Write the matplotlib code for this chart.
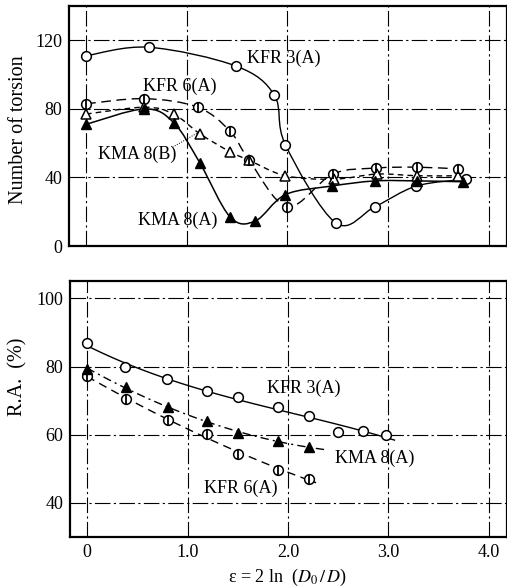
import numpy as np
import matplotlib
matplotlib.use("Agg")
import matplotlib.pyplot as plt
from matplotlib.path import Path
from matplotlib.patches import PathPatch

plt.rcParams["font.family"] = ["Liberation Serif", "DejaVu Serif"]
plt.rcParams["mathtext.fontset"] = "stix"

# ---- Number of torsion vs strain ----
kfr3_t_x = [0.0, 0.62, 1.49, 1.87, 1.98, 2.48, 2.87, 3.28, 3.77]
kfr3_t_y = [111, 116, 105, 88, 59, 13.5, 23, 35, 39]

kfr6_t_x = [0.0, 0.58, 1.11, 1.43, 1.62, 2.0, 2.45, 2.88, 3.29, 3.69]
kfr6_t_y = [83, 86, 81, 67, 50, 23, 42, 45.5, 46, 45]

kma8b_t_x = [0.0, 0.58, 0.87, 1.13, 1.43, 1.62, 1.98, 2.46, 2.89, 3.29, 3.69]
kma8b_t_y = [77, 81, 77, 65.5, 55, 50, 41, 39, 42, 41, 41]

kma8a_t_x = [0.0, 0.58, 0.87, 1.13, 1.43, 1.68, 1.98, 2.44, 2.87, 3.29, 3.74]
kma8a_t_y = [71, 80, 72, 48.5, 17, 14.6, 30, 35, 38, 38, 37.5]

# ---- Reduction of area vs strain ----
kfr3_r_x = [0.0, 0.38, 0.8, 1.19, 1.5, 1.9, 2.21, 2.5, 2.75, 2.98]
kfr3_r_y = [86.8, 79.8, 76.3, 72.8, 71.0, 68.1, 65.5, 60.8, 61.1, 59.9]

kma8a_r_x = [0.0, 0.39, 0.81, 1.19, 1.5, 1.9, 2.21]
kma8a_r_y = [79.3, 74.0, 68.0, 64.0, 60.5, 58.1, 56.4]

kfr6_r_x = [0.0, 0.39, 0.81, 1.19, 1.5, 1.9, 2.21]
kfr6_r_y = [77.2, 70.4, 64.3, 60.2, 54.3, 49.7, 47.0]

x_ticks = [0, 1, 2, 3, 4]
x_ticklabels = ["0", "1.0", "2.0", "3.0", "4.0"]
top_yticks = [0, 40, 80, 120]
bot_yticks = [40, 60, 80, 100]

GRID_DASH = (0, (14, 3, 2, 3))
FS = 13


def smooth_curve(ax, xs, ys, **kw):
    """Draw a smooth Catmull-Rom style Bezier path through the points."""
    pts = np.column_stack([xs, ys]).astype(float)
    verts = [pts[0]]
    codes = [Path.MOVETO]
    n = len(pts)
    for i in range(n - 1):
        p0 = pts[i - 1] if i > 0 else pts[i]
        p1 = pts[i]
        p2 = pts[i + 1]
        p3 = pts[i + 2] if i + 2 < n else pts[i + 1]
        c1 = p1 + (p2 - p0) / 6.0
        c2 = p2 - (p3 - p1) / 6.0
        verts += [c1, c2, p2]
        codes += [Path.CURVE4] * 3
    ax.add_patch(PathPatch(Path(verts, codes), fill=False, transform=ax.transData, **kw))


def trend_curve(ax, xs, ys, x_end, deg=2, **kw):
    """Least-squares trend line through the measured points."""
    coef = np.polyfit(xs, ys, deg)
    xx = np.linspace(min(xs), x_end, 120)
    ax.plot(xx, np.polyval(coef, xx), **kw)


def open_circle(ax, xs, ys):
    ax.plot(xs, ys, "o", ms=7, mfc="white", mec="black", mew=1.1, zorder=5)


def barred_circle(ax, xs, ys):
    ax.plot(xs, ys, "o", ms=7, mfc="white", mec="black", mew=1.1, zorder=5)
    ax.plot(xs, ys, "|", ms=7, mec="black", mew=1.3, zorder=6)


def open_tri(ax, xs, ys):
    ax.plot(xs, ys, "^", ms=6.5, mfc="white", mec="black", mew=1.1, zorder=5)


def filled_tri(ax, xs, ys):
    ax.plot(xs, ys, "^", ms=6.5, mfc="black", mec="black", mew=1.0, zorder=6)


def style_axes(ax, yticks, show_x):
    ax.set_xlim(-0.17, 4.18)
    ax.set_xticks(x_ticks)
    ax.set_yticks(yticks)
    ax.set_yticklabels([str(v) for v in yticks], fontsize=FS)
    if show_x:
        ax.set_xticklabels(x_ticklabels, fontsize=FS)
    else:
        ax.set_xticklabels([])
    ax.tick_params(length=0, pad=5)
    ax.grid(True, color="black", lw=0.8, linestyle=GRID_DASH)
    ax.set_axisbelow(True)
    for s in ax.spines.values():
        s.set_linewidth(1.6)


fig = plt.figure(figsize=(5.07, 5.88), dpi=100)
ax1 = fig.add_axes([0.136, 0.5816, 0.864, 0.408])
ax2 = fig.add_axes([0.138, 0.0867, 0.862, 0.435])

# Upper panel
ax1.set_ylim(0, 140)
style_axes(ax1, top_yticks, False)
smooth_curve(ax1, kfr3_t_x, kfr3_t_y, color="black", lw=1.0)
smooth_curve(ax1, kfr6_t_x, kfr6_t_y, color="black", lw=1.0, linestyle=(0, (7, 4)))
smooth_curve(ax1, kma8b_t_x, kma8b_t_y, color="black", lw=1.0, linestyle=(0, (4, 3)))
smooth_curve(ax1, kma8a_t_x, kma8a_t_y, color="black", lw=1.1)
open_circle(ax1, kfr3_t_x, kfr3_t_y)
barred_circle(ax1, kfr6_t_x, kfr6_t_y)
open_tri(ax1, kma8b_t_x, kma8b_t_y)
filled_tri(ax1, kma8a_t_x, kma8a_t_y)

ax1.text(1.6, 109.5, "KFR 3(A)", fontsize=FS, ha="left", va="center")
ax1.text(0.57, 93, "KFR 6(A)", fontsize=FS, ha="left", va="center")
ax1.text(0.12, 53.6, "KMA 8(B)", fontsize=FS, ha="left", va="center")
ax1.text(0.52, 15, "KMA 8(A)", fontsize=FS, ha="left", va="center")
ax1.plot([0.86, 1.10], [57.7, 65.8], color="black", lw=0.7, linestyle=(0, (1, 1.5)))

# Lower panel
ax2.set_ylim(30, 105)
style_axes(ax2, bot_yticks, True)
trend_curve(ax2, kfr3_r_x, kfr3_r_y, 3.06, deg=3, color="black", lw=1.0)
trend_curve(ax2, kma8a_r_x, kma8a_r_y, 2.39, color="black", lw=1.0,
            linestyle=(0, (6, 3, 1.5, 3)))
trend_curve(ax2, kfr6_r_x, kfr6_r_y, 2.28, color="black", lw=1.0,
            linestyle=(0, (6, 4)))
open_circle(ax2, kfr3_r_x, kfr3_r_y)
filled_tri(ax2, kma8a_r_x, kma8a_r_y)
barred_circle(ax2, kfr6_r_x, kfr6_r_y)

ax2.text(1.79, 73.7, "KFR 3(A)", fontsize=FS, ha="left", va="center")
ax2.text(2.47, 53.2, "KMA 8(A)", fontsize=FS, ha="left", va="center")
ax2.text(1.16, 44.4, "KFR 6(A)", fontsize=FS, ha="left", va="center")

fig.text(0.036, 0.78, "Number of torsion", rotation=90, fontsize=14.5,
         ha="center", va="center")
fig.text(0.036, 0.36, "R.A.  (%)", rotation=90, fontsize=14.5,
         ha="center", va="center")
fig.text(0.566, 0.018, r"ε = 2 ln  ($D_0\,/\,D$)", fontsize=FS,
         ha="center", va="center")

fig.savefig("out.png", dpi=100)
